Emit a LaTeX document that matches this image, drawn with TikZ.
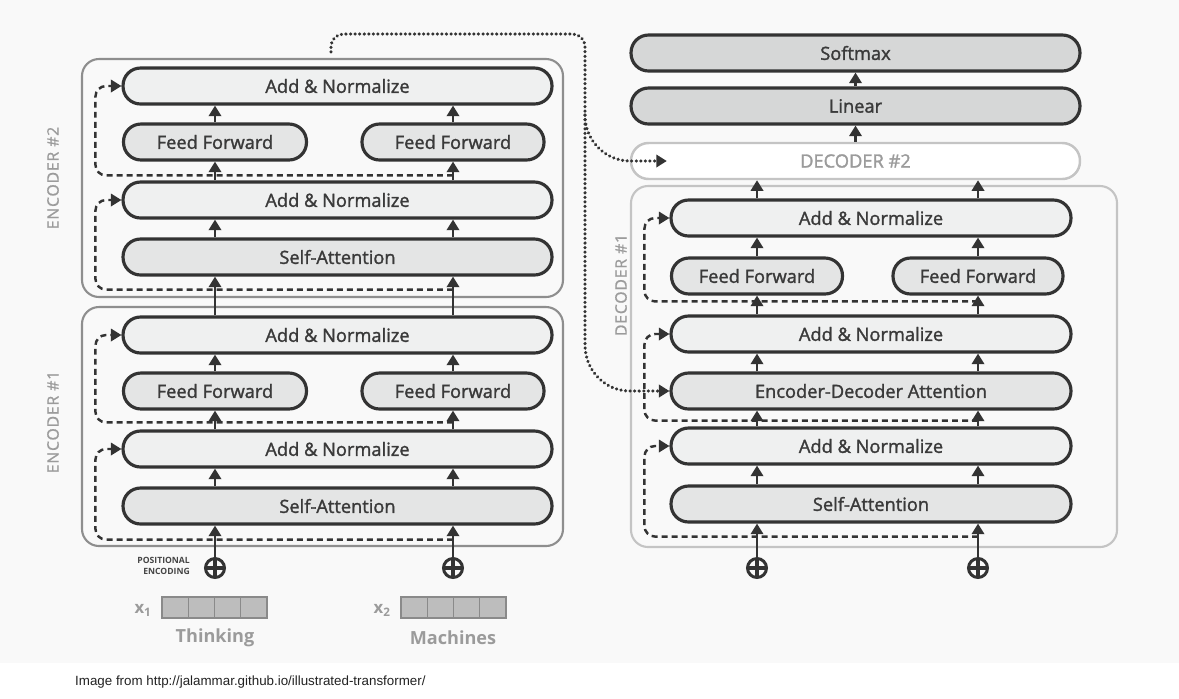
\documentclass[tikz,border=0pt]{standalone}
\usepackage{fontspec}
\setmainfont{Open Sans}
\newfontfamily\capfont{Liberation Sans}
\newfontfamily\boxfont[FakeBold=1.6]{Open Sans}
\newfontfamily\spacedfont[LetterSpace=5, FakeBold=0.8]{Open Sans}
\usetikzlibrary{arrows.meta, calc}
\definecolor{ink}{HTML}{333333}
\definecolor{inktext}{HTML}{3A3A3A}
\definecolor{normfill}{HTML}{EFF0F0}
\definecolor{layerfill}{HTML}{E4E5E5}
\definecolor{headfill}{HTML}{D6D7D7}
\definecolor{stackgray}{HTML}{8E8E8E}
\definecolor{palegray}{HTML}{C4C4C4}
\definecolor{labelgray}{HTML}{9B9B9B}
\definecolor{posgray}{HTML}{454545}
\definecolor{cellfill}{HTML}{BDBDBD}
\definecolor{cellline}{HTML}{8A8A8A}
\definecolor{canvas}{HTML}{F9F9F9}
\definecolor{captext}{HTML}{222222}

\begin{document}
\begin{tikzpicture}[x=0.02cm, y=-0.02cm,
  pill/.style={draw=ink, line width=1.8pt, rounded corners=0.35cm, minimum height=0.72cm,
    inner sep=0pt, text=inktext, font=\boxfont\fontsize{10.4}{12}\selectfont},
  norm/.style={pill, fill=normfill},
  layer/.style={pill, fill=layerfill},
  flow/.style={draw=ink, line width=1.4pt, -{Triangle[length=6pt, width=7pt]}},
  resid/.style={flow, dash pattern=on 3.4pt off 2.3pt, rounded corners=6pt},
  xline/.style={draw=ink, line width=1.9pt, dash pattern=on 0.1pt off 2.5pt, line cap=round},
  xattn/.style={xline, -{Triangle[length=6pt, width=7pt]}},
  stack/.style={draw=stackgray, line width=1.2pt, rounded corners=0.34cm},
  addpos/.style={circle, draw=ink, line width=1.7pt, minimum size=0.38cm, inner sep=0pt,
    path picture={\draw[ink, line width=1.8pt]
      (path picture bounding box.north) -- (path picture bounding box.south)
      (path picture bounding box.west) -- (path picture bounding box.east);}},
  sidelabel/.style={rotate=90, text=labelgray, font=\spacedfont\fontsize{9}{10}\selectfont},
  word/.style={text=labelgray, font=\bfseries\fontsize{10.3}{12}\selectfont},
]
\useasboundingbox (0,0) rectangle (1179,698);
\fill[white] (0,0) rectangle (1179,698);
\fill[canvas] (0,0) rectangle (1179,663);

% encoder stacks
\draw[stack] (82,59) rectangle (563,297);
\draw[stack] (82,307) rectangle (563,546);
\node[sidelabel] (labenc2) at (53,178) {ENCODER \#2};
\node[sidelabel] (labenc1) at (53,422) {ENCODER \#1};

\node[norm, minimum width=8.58cm] (e2an2) at (337.5,86) {Add \& Normalize};
\node[layer, minimum width=3.66cm] (e2ff1) at (215,142) {Feed Forward};
\node[layer, minimum width=3.64cm] (e2ff2) at (453,142) {Feed Forward};
\node[norm, minimum width=8.58cm] (e2an1) at (337.5,200) {Add \& Normalize};
\node[layer, minimum width=8.58cm] (e2sa) at (337.5,257) {Self-Attention};

\node[norm, minimum width=8.58cm] (e1an2) at (337.5,335) {Add \& Normalize};
\node[layer, minimum width=3.66cm] (e1ff1) at (215,391) {Feed Forward};
\node[layer, minimum width=3.64cm] (e1ff2) at (453,391) {Feed Forward};
\node[norm, minimum width=8.58cm] (e1an1) at (337.5,449) {Add \& Normalize};
\node[layer, minimum width=8.58cm] (e1sa) at (337.5,506) {Self-Attention};

% inputs
\node[addpos] (pe1) at (215,568) {};
\node[addpos] (pe2) at (453,568) {};
\node[anchor=east, align=right, text=posgray, font=\bfseries\fontsize{4.9}{6.6}\selectfont]
  (posenc) at (196,566) {POSITIONAL\\ENCODING};
\node[anchor=east, text=labelgray, font=\bfseries\fontsize{9.5}{10}\selectfont] (x1) at (158,610) {x\textsubscript{1}};
\node[anchor=east, text=labelgray, font=\bfseries\fontsize{9.5}{10}\selectfont] (x2) at (397,610) {x\textsubscript{2}};
\foreach \k in {0,...,3} {
  \draw[cellline, fill=cellfill, line width=0.8pt] (162+26.25*\k,597) rectangle ++(26.25,21);
  \draw[cellline, fill=cellfill, line width=0.8pt] (401+26.25*\k,597) rectangle ++(26.25,21);
}
\node[word] (w1) at (215,638) {Thinking};
\node[word] (w2) at (453,638) {Machines};

\foreach \i in {1,2} {
  \draw[flow] (pe\i) -- (e1sa.south -| pe\i);
  \draw[flow] (e1sa.north -| pe\i) -- (e1an1.south -| pe\i);
  \draw[flow] (e1an1.north -| pe\i) -- (e1ff\i);
  \draw[flow] (e1ff\i) -- (e1an2.south -| pe\i);
  \draw[flow] (e1an2.north -| pe\i) -- (e2sa.south -| pe\i);
  \draw[flow] (e2sa.north -| pe\i) -- (e2an1.south -| pe\i);
  \draw[flow] (e2an1.north -| pe\i) -- (e2ff\i);
  \draw[flow] (e2ff\i) -- (e2an2.south -| pe\i);
}
% residuals
\draw[resid] ($(e1sa.south -| pe2)+(0,14)$) -| ($(e1an1.west)+(-26,0)$) -- (e1an1.west);
\draw[resid] ($(e1an1.north -| pe2)+(0,-7)$) -| ($(e1an2.west)+(-26,0)$) -- (e1an2.west);
\draw[resid] ($(e2sa.south -| pe2)+(0,13)$) -| ($(e2an1.west)+(-26,0)$) -- (e2an1.west);
\draw[resid] ($(e2an1.north -| pe2)+(0,-5)$) -| ($(e2an2.west)+(-26,0)$) -- (e2an2.west);

% decoder side
\draw[stack, draw=palegray] (631,186) rectangle (1117,547);
\node[sidelabel] (labdec1) at (621,285) {DECODER \#1};
\node[pill, fill=headfill, minimum width=8.98cm] (softmax) at (855.5,53) {Softmax};
\node[pill, fill=headfill, minimum width=8.98cm] (linear) at (855.5,106) {Linear};
\node[pill, draw=palegray, line width=1.4pt, fill=white, text=labelgray, minimum width=8.98cm] (dec2) at (855.5,161) {DECODER \#2};

\node[norm, minimum width=8cm] (d1an3) at (871,218) {Add \& Normalize};
\node[layer, minimum width=3.42cm] (d1ff1) at (757,276) {Feed Forward};
\node[layer, minimum width=3.4cm] (d1ff2) at (978,276) {Feed Forward};
\node[norm, minimum width=8cm] (d1an2) at (871,334) {Add \& Normalize};
\node[layer, minimum width=8cm] (d1eda) at (871,391) {Encoder-Decoder Attention};
\node[norm, minimum width=8cm] (d1an1) at (871,446) {Add \& Normalize};
\node[layer, minimum width=8cm] (d1sa) at (871,504) {Self-Attention};
\node[addpos] (pd1) at (757,568) {};
\node[addpos] (pd2) at (978,568) {};

\draw[flow] (linear) -- (softmax);
\draw[flow] (dec2) -- (linear);
\foreach \i in {1,2} {
  \draw[flow] (pd\i) -- (d1sa.south -| pd\i);
  \draw[flow] (d1sa.north -| pd\i) -- (d1an1.south -| pd\i);
  \draw[flow] (d1an1.north -| pd\i) -- (d1eda.south -| pd\i);
  \draw[flow] (d1eda.north -| pd\i) -- (d1an2.south -| pd\i);
  \draw[flow] (d1an2.north -| pd\i) -- (d1ff\i);
  \draw[flow] (d1ff\i) -- (d1an3.south -| pd\i);
  \draw[flow] (d1an3.north -| pd\i) -- (dec2.south -| pd\i);
}
\draw[resid] ($(d1sa.south -| pd2)+(0,13)$) -| ($(d1an1.west)+(-25,0)$) -- (d1an1.west);
\draw[resid] ($(d1eda.south -| pd2)+(0,10)$) -| ($(d1an2.west)+(-25,0)$) -- (d1an2.west);
\draw[resid] ($(d1an2.north -| pd2)+(0,-13)$) -| ($(d1an3.west)+(-25,0)$) -- (d1an3.west);

% encoder output to decoders
\coordinate (kv) at (331,52);
\coordinate (split) at (585,115);
\draw[xline, rounded corners=0.25cm] (kv) |- (585,34) -- (split);
\draw[xattn] (split) to[out=-90, in=180] (630,161) -- ($(dec2.west)+(37,0)$);
\draw[xattn] (split) -- (585,345) to[out=-90, in=180] (630,391) -- (d1eda.west);

\node[anchor=west, text=captext, font=\capfont\fontsize{7.6}{9}\selectfont] (cap) at (69,682)
  {Image from http://jalammar.github.io/illustrated-transformer/};
\end{tikzpicture}
\end{document}
